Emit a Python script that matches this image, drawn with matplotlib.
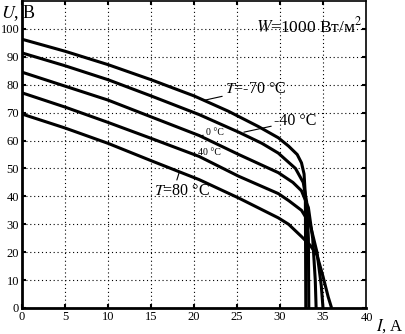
import matplotlib
matplotlib.use("Agg")
import matplotlib.pyplot as plt

plt.rcParams['font.family'] = ['Liberation Serif', 'DejaVu Serif']
plt.rcParams['mathtext.fontset'] = 'stix'

# Data (I in A, U in V)
I_m70 = [0, 5, 10, 15, 20, 24, 27.5, 29.8, 31, 32, 32.5, 32.8, 32.95, 33.0]
U_m70 = [96.3, 92.0, 87.2, 81.8, 76.0, 70.5, 65.0, 61.0, 58.0, 55.0, 52.0, 48.0, 40.0, 0]

I_m40 = [0, 5, 10, 15, 20.6, 25.2, 27.9, 29.8, 31.8, 32.7, 33.1, 33.3, 33.35]
U_m40 = [91.4, 86.8, 81.8, 76.0, 69.3, 63.0, 59.0, 55.5, 50.0, 45.0, 38.0, 25.0, 0]

I_0 = [0, 5, 10, 15, 20.6, 25.2, 29.8, 31.5, 32.5, 33.3, 33.8, 34.1, 34.2]
U_0 = [84.5, 79.5, 74.5, 68.5, 61.8, 55.0, 48.5, 45.0, 42.0, 36.0, 25.0, 10.0, 0]

I_40 = [0, 5, 10, 15, 20.6, 25.2, 29.8, 31, 32.5, 33.5, 34.3, 34.8, 35.0]
U_40 = [77.1, 72.0, 66.5, 60.8, 54.3, 47.2, 41.0, 38.5, 35.0, 30.0, 20.0, 8.0, 0]

I_80 = [0, 5, 10, 15, 20.6, 25.2, 29.8, 31, 32.5, 33.5, 34.3, 35.0, 35.6, 36.0]
U_80 = [69.5, 64.5, 59.0, 52.8, 46.0, 39.4, 32.3, 30.0, 25.6, 22.5, 19.0, 11.3, 4.0, 0]

x_ticks = [0, 5, 10, 15, 20, 25, 30, 35]
y_ticks = [0, 10, 20, 30, 40, 50, 60, 70, 80, 90, 100]

fig = plt.figure(figsize=(4.05, 3.34), dpi=100)
ax = fig.add_axes([22/405, 26/334, 344/405, 307/334])

for I, U in [(I_m70, U_m70), (I_m40, U_m40), (I_0, U_0), (I_40, U_40), (I_80, U_80)]:
    ax.plot(I, U, color='black', lw=2.2, solid_capstyle='butt',
            solid_joinstyle='round', zorder=3)

ax.set_xlim(0, 40)
ax.set_ylim(0, 110)
ax.set_xticks(x_ticks)
ax.set_yticks(y_ticks)
ax.tick_params(direction='in', top=True, right=True, length=3, width=1.5,
               labelsize=9, pad=2)
ax.grid(True, color='black', linestyle=(0, (1, 2.5)), linewidth=0.8)
for s in ['left', 'bottom']:
    ax.spines[s].set_linewidth(2)
for s in ['top', 'right']:
    ax.spines[s].set_linewidth(1.2)

# 40 tick label on x-axis (slightly raised) and axis names
fig.text(367/405, 1 - 321/334, '40', fontsize=9, ha='center', va='baseline')
fig.text(376/405, 1 - 331/334, '$I$, А', fontsize=12, ha='left', va='baseline')
fig.text(1/405, 1 - 18/334, '$U$, В', fontsize=13, ha='left', va='baseline')

ax.text(39.6, 101.0, '$W$=1000 Вт/м$^2$', fontsize=12.5, ha='right', va='center')

ax.annotate('$T$=-70 °C', xy=(21.3, 74.5), xytext=(23.6, 78.5), fontsize=11.5,
            ha='left', va='center',
            arrowprops=dict(arrowstyle='-', color='black', lw=0.8, shrinkA=0, shrinkB=0))
ax.annotate('-40 °C', xy=(25.8, 63.0), xytext=(29.3, 67.0), fontsize=11.5,
            ha='left', va='center',
            arrowprops=dict(arrowstyle='-', color='black', lw=0.8, shrinkA=0, shrinkB=0))
ax.annotate('0 °C', xy=(20.7, 61.6), xytext=(21.4, 63.0), fontsize=7,
            ha='left', va='center',
            arrowprops=dict(arrowstyle='-', color='black', lw=0.8, shrinkA=0, shrinkB=0))
ax.annotate('40 °C', xy=(19.9, 55.0), xytext=(20.5, 55.8), fontsize=7,
            ha='left', va='center',
            arrowprops=dict(arrowstyle='-', color='black', lw=0.8, shrinkA=0, shrinkB=0))
ax.annotate('$T$=80 °C', xy=(18.3, 48.8), xytext=(15.3, 42.0), fontsize=11.5,
            ha='left', va='center',
            arrowprops=dict(arrowstyle='-', color='black', lw=0.8, shrinkA=0, shrinkB=0,
                            relpos=(0.4, 1.0)))

fig.savefig('out.png', dpi=100)
